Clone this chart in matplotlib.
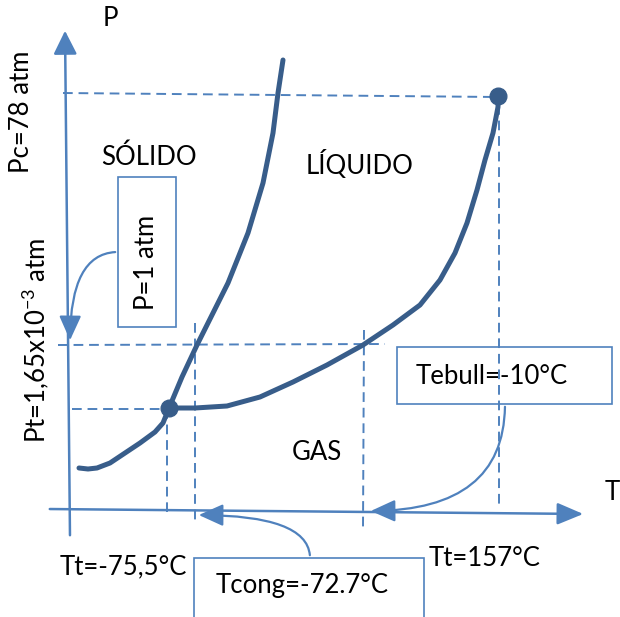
import matplotlib
matplotlib.use("Agg")
import matplotlib.pyplot as plt
from matplotlib.patches import FancyArrowPatch, Rectangle

# phase diagram sketch, drawn in picture coordinates (x right, y down)
fusion_x = [283, 278, 273, 263, 248, 228, 212, 197, 182, 169]
fusion_y = [60, 93, 133, 183, 233, 283, 315, 345, 377, 408]

sublim_x = [169, 163, 155, 140, 125, 110, 97, 88, 79]
sublim_y = [408, 423, 432, 443, 453, 463, 468, 469, 468]

vapor_x = [169, 195, 227, 260, 293, 327, 363, 393, 420, 440, 455, 467, 477, 485, 493, 498, 498]
vapor_y = [408, 408, 406, 397, 382, 365, 345, 325, 305, 280, 253, 223, 190, 160, 133, 107, 97]

triple_pt = (169, 408)
critical_pt = (498, 96)

# dashed guide lines: (x0, y0, x1, y1)
guides = [
    (63, 93, 497, 97),     # Pc
    (58, 345, 385, 344),   # P = 1 atm
    (72, 409, 168, 409),   # Pt
    (167, 409, 167, 512),  # Tt
    (195, 323, 195, 520),  # Tcong
    (364, 330, 363, 528),  # Tebull
    (499, 105, 499, 505),  # Tc
]

blue = "#4F81BD"
dark = "#385D8A"
font = ["Lato", "DejaVu Sans"]
plt.rcParams["mathtext.fontset"] = "custom"
plt.rcParams["mathtext.rm"] = "Lato"

fig = plt.figure(figsize=(6.2, 6.17), dpi=100)
ax = fig.add_axes([0, 0, 1, 1])
ax.set_xlim(0, 620)
ax.set_ylim(617, 0)
ax.axis("off")

for x0, y0, x1, y1 in guides:
    ax.plot([x0, x1], [y0, y1], color=blue, lw=1.4, dashes=(5, 3))

# axes with arrow heads
ax.add_patch(FancyArrowPatch((70, 538), (65, 28), arrowstyle="-|>,head_length=0.9,head_width=0.45",
                             mutation_scale=16, color=blue, lw=1.8))
ax.add_patch(FancyArrowPatch((47, 509), (586, 514), arrowstyle="-|>,head_length=1.0,head_width=0.42",
                             mutation_scale=16, color=blue, lw=1.8))

# phase boundaries
for xs, ys in [(fusion_x, fusion_y), (sublim_x, sublim_y), (vapor_x, vapor_y)]:
    ax.plot(xs, ys, color=dark, lw=3.6, solid_capstyle="round", solid_joinstyle="round")
ax.plot(*triple_pt, "o", color=dark, ms=12)
ax.plot(*critical_pt, "o", color=dark, ms=12)

# boxes
for x, y, w, h in [(118, 177, 58, 150), (397, 347, 215, 57), (194, 558, 230, 60)]:
    ax.add_patch(Rectangle((x, y), w, h, fill=False, ec=blue, lw=1.2))

# callout arrows
callouts = [((118, 252), (70, 343), 180, 90),
            ((505, 404), (368, 511), 90, 0),
            ((310, 558), (196, 515), 90, 0)]
for start, end, a, b in callouts:
    ax.add_patch(FancyArrowPatch(start, end, connectionstyle=f"angle3,angleA={a},angleB={b}",
                                 arrowstyle="-|>,head_length=1.0,head_width=0.45",
                                 mutation_scale=15, color=blue, lw=1.6))

fs = 18.5
ax.text(110, 18, "P", fontsize=fs, family=font, ha="center", va="center")
ax.text(605, 492, "T", fontsize=fs, family=font, ha="left", va="center")
ax.text(22, 112, "Pc=78 atm", fontsize=fs, family=font, rotation=90, ha="center", va="center")
ax.text(35, 340, r"Pt=1,65x10$^{\mathrm{-3}}$ atm", fontsize=fs, family=font, rotation=90,
        ha="center", va="center")
ax.text(149, 157, "SÓLIDO", fontsize=fs, family=font, ha="center", va="center")
ax.text(360, 164, "LÍQUIDO", fontsize=fs, family=font, ha="center", va="center")
ax.text(317, 452, "GAS", fontsize=fs, family=font, ha="center", va="center")
ax.text(147, 262, "P=1 atm", fontsize=fs, family=font, rotation=90, ha="center", va="center")
ax.text(492, 376, "Tebull=-10°C", fontsize=fs, family=font, ha="center", va="center")
ax.text(302, 585, "Tcong=-72.7°C", fontsize=fs, family=font, ha="center", va="center")
ax.text(123, 567, "Tt=-75,5°C", fontsize=fs, family=font, ha="center", va="center")
ax.text(485, 558, "Tt=157°C", fontsize=fs, family=font, ha="center", va="center")

fig.savefig("out.png", dpi=100)
